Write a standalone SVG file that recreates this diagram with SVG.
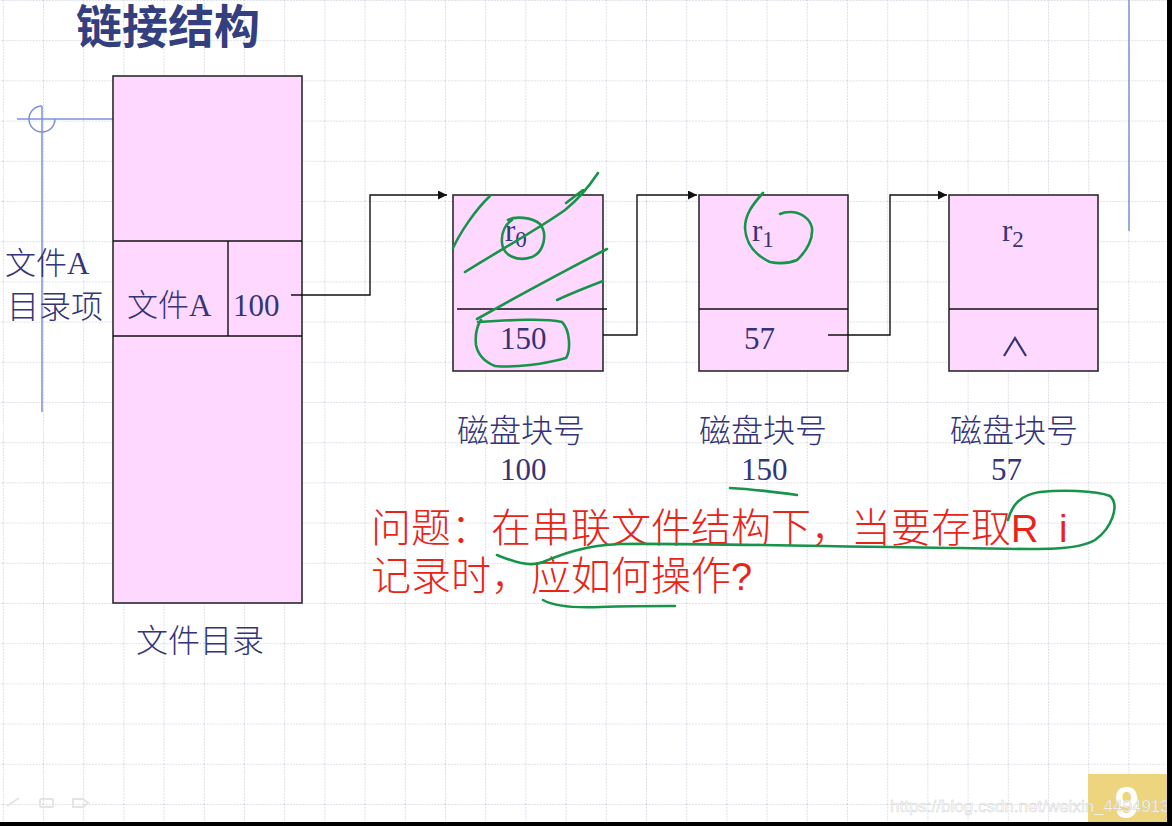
<svg xmlns="http://www.w3.org/2000/svg" width="1172" height="826" viewBox="0 0 1172 826">
<style>
.box{fill:#FFD8FF;stroke:#2b2b2b;stroke-width:1.6}
.ln{stroke:#111;stroke-width:1.4;fill:none}
.t{font-family:"Liberation Serif","Noto Sans CJK SC",serif;fill:#343478;font-size:31px}
.cjk{font-family:"Noto Sans CJK SC","Liberation Sans",sans-serif;fill:#343478;font-size:32px;font-weight:300}
.red{font-family:"Noto Sans CJK SC","Liberation Sans",sans-serif;fill:#E82418;font-size:40px;font-weight:300}
.g{fill:none;stroke:#17934A;stroke-width:2.6;stroke-linecap:round;stroke-linejoin:round}
.blue{stroke:#7D93D3;stroke-width:1.5;fill:none}
</style>
<defs>
<pattern id="grid" x="2.8" y="0" width="40.2" height="40.2" patternUnits="userSpaceOnUse">
<path d="M0.5 0V40.2M0 0.5H40.2" stroke="#D4D8E2" stroke-width="1" stroke-dasharray="1.5 1.5" fill="none"/>
</pattern>
<marker id="arr" viewBox="0 0 10 10" refX="10" refY="5" markerWidth="9" markerHeight="9" markerUnits="userSpaceOnUse" orient="auto">
<path d="M0 0L10 5L0 10z" fill="#111"/>
</marker>
</defs>
<rect width="1172" height="826" fill="#fff"/>
<rect width="1166" height="822" fill="url(#grid)"/>

<!-- decorations -->
<g id="deco">
<line class="blue" x1="1129" y1="0" x2="1129" y2="231"/>
<line class="blue" x1="17" y1="119" x2="113" y2="119"/>
<line class="blue" x1="42" y1="106" x2="42" y2="412"/>
<path class="blue" d="M42 106A13 13 0 1 0 55 119"/>
</g>

<text x="76" y="43" font-family="'Noto Sans CJK SC',sans-serif" font-weight="700" font-size="46" fill="#343F80">链接结构</text>

<!-- directory -->
<g id="directory">
<rect class="box" x="113" y="76" width="189" height="527"/>
<line class="ln" x1="113" y1="241" x2="302" y2="241"/>
<line class="ln" x1="113" y1="336" x2="302" y2="336"/>
<line class="ln" x1="228" y1="241" x2="228" y2="336"/>
<text class="t" x="127" y="316"><tspan font-family="'Noto Sans CJK SC',sans-serif" font-weight="300" font-size="31">文件</tspan>A</text>
<text class="t" x="233" y="316">100</text>
<text class="cjk" x="136" y="652" font-size="33">文件目录</text>
</g>

<g id="dir-label">
<text class="t" x="5" y="274"><tspan font-family="'Noto Sans CJK SC',sans-serif" font-weight="300" font-size="31">文件</tspan>A</text>
<text class="cjk" x="7" y="318" font-size="31.5">目录项</text>
</g>

<!-- block 100 -->
<g id="block100">
<rect class="box" x="453" y="195" width="150" height="176"/>
<line class="ln" x1="457" y1="309" x2="607" y2="309"/>
<text class="t" x="505" y="241" font-size="33">r<tspan font-size="23" dy="6">0</tspan></text>
<text class="t" x="500" y="349">150</text>
<text class="cjk" x="457" y="442" font-size="33">磁盘块号</text>
<text class="t" x="500" y="480">100</text>
</g>

<!-- block 150 -->
<g id="block150">
<rect class="box" x="699" y="195" width="149" height="176"/>
<line class="ln" x1="699" y1="309" x2="848" y2="309"/>
<text class="t" x="752" y="241" font-size="33">r<tspan font-size="23" dy="6">1</tspan></text>
<text class="t" x="744" y="349">57</text>
<text class="cjk" x="699" y="442" font-size="33">磁盘块号</text>
<text class="t" x="741" y="480">150</text>
</g>

<!-- block 57 -->
<g id="block57">
<rect class="box" x="949" y="195" width="149" height="176"/>
<line class="ln" x1="949" y1="309" x2="1098" y2="309"/>
<text class="t" x="1002" y="241" font-size="33">r<tspan font-size="23" dy="6">2</tspan></text>
<path d="M1004 356L1015 338L1026 356" fill="none" stroke="#343478" stroke-width="2.2"/>
<text class="cjk" x="950" y="442" font-size="33">磁盘块号</text>
<text class="t" x="991" y="480">57</text>
</g>

<!-- connectors -->
<g id="connectors">
<path class="ln" d="M291 295H370V195H447" marker-end="url(#arr)"/>
<path class="ln" d="M603 335H637V195H697" marker-end="url(#arr)"/>
<path class="ln" d="M828 335H890V195H947" marker-end="url(#arr)"/>
</g>

<!-- question -->
<g id="question">
<text class="red" x="371" y="542">问题：在串联文件结构下，当要存取<tspan font-family="'Liberation Sans',sans-serif" font-size="38" letter-spacing="5">R i</tspan></text>
<text class="red" x="371" y="590">记录时，应如何操作<tspan font-family="'Liberation Sans',sans-serif" font-size="38">?</tspan></text>
</g>

<!-- handwritten annotations -->
<g id="ink">
<path class="g" d="M453 248C460 233 475 210 490 196"/>
<path class="g" d="M465 272C500 250 540 228 565 210C580 198 592 182 598 173"/>
<path class="g" d="M566 203L583 190"/>
<path class="g" d="M508 220C515 216 532 217 540 224C548 234 544 252 532 257C518 262 503 256 502 243C501 232 506 224 512 220"/>
<path class="g" d="M477 319C520 295 570 268 607 249"/>
<path class="g" d="M557 300C572 293 590 286 603 281"/>
<path class="g" d="M478 322C510 320 545 318 562 322C570 330 571 350 566 358C545 364 515 368 495 366C485 362 478 355 476 345C475 335 477 326 481 320"/>
<path class="g" d="M763 193C752 205 745 215 745 228C746 245 755 255 770 262C780 264 790 263 797 260C808 250 813 238 812 228C810 218 800 212 790 212C786 212 782 213 780 214"/>
<path class="g" d="M730 488C750 489 775 492 797 495"/>
<path class="g" d="M497 555C510 560 528 568 543 562C560 555 585 545 620 544C700 543 850 547 960 548C1030 549 1075 552 1095 540C1112 528 1120 505 1110 496C1095 490 1060 490 1040 492C1020 495 1012 505 1008 520"/>
<path class="g" d="M543 600C555 607 575 608 600 607C630 606 655 606 675 606"/>
</g>

<!-- footer -->
<g id="footer">
<g fill="none" stroke="#E4E4E4" stroke-width="2">
<path d="M7 806L19 798"/>
<rect x="40" y="799" width="13" height="8" rx="1"/>
<path d="M73 799H83L88 803L83 807H73z"/>
</g>
<rect x="1088" y="774" width="79" height="48" fill="#EDD57F"/>
<text x="1127" y="818" text-anchor="middle" font-family="'Liberation Sans',sans-serif" font-weight="700" font-size="44" fill="#fff">9</text>
<text x="890" y="812" font-family="'Liberation Sans',sans-serif" font-size="17" fill="#fff" stroke="#cfcfcf" stroke-width="0.5" opacity="0.9">https://blog.csdn.net/weixin_44949135</text>
<rect x="1167" y="0" width="5" height="826" fill="#000"/>
<rect x="0" y="822" width="1172" height="4" fill="#000"/>
</g>
</svg>
